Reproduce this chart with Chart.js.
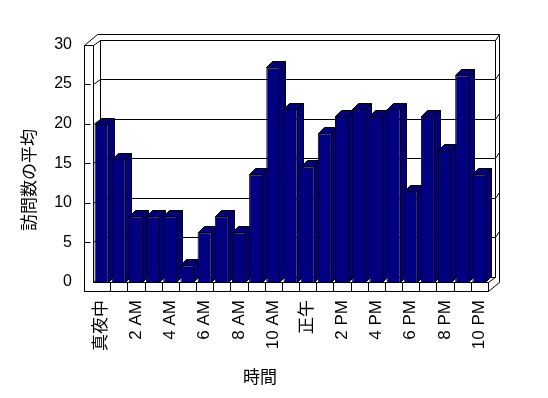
<!DOCTYPE html>
<html><head><meta charset="utf-8">
<style>html,body{margin:0;padding:0;background:#fff;}canvas{display:block;}</style>
<script src="https://cdn.jsdelivr.net/npm/chart.js@4/dist/chart.umd.min.js"></script>
</head><body>
<canvas id="c" width="548" height="398"></canvas>
<script>
const hourLabels = ['真夜中','1 AM','2 AM','3 AM','4 AM','5 AM','6 AM','7 AM','8 AM','9 AM','10 AM','11 AM',
  '正午','1 PM','2 PM','3 PM','4 PM','5 PM','6 PM','7 PM','8 PM','9 PM','10 PM'];
const avgVisits = [20, 15.6, 8.3, 8.3, 8.3, 2.1, 6.3, 8.3, 6.3, 13.6, 27.1, 21.9,
  14.6, 18.8, 21, 21.9, 21, 21.9, 11.5, 21, 16.7, 26.1, 13.6];
const yTicks = [0, 5, 10, 15, 20, 25, 30];
const xTitle = '時間';
const yTitle = '訪問数の平均';

const FONT = "'Liberation Sans', 'Noto Sans CJK JP', sans-serif";
const CJK = "'Noto Sans CJK JP', sans-serif";

const threeD = {
  id: 'threeD',
  beforeDatasetsDraw(chart) {
    const ctx = chart.ctx, a = chart.chartArea, ys = chart.scales.y;
    const L = Math.round(a.left) + 0.5, R = Math.round(a.right) + 0.5;
    const T = Math.round(ys.getPixelForValue(30)) + 0.5, B = Math.round(ys.getPixelForValue(0)) + 0.5;
    const DX = 7, DY = 5;
    const OL = L - 9, BL = L + DX, BR = R + DX, BT = T - DY, BB = B - DY;
    const OR = BR + 4, OT = BT - 6, FB = B + 9;
    ctx.save();
    ctx.strokeStyle = '#000'; ctx.lineWidth = 1;
    const line = (pts, fill) => {
      ctx.beginPath(); ctx.moveTo(pts[0][0], pts[0][1]);
      for (let i = 1; i < pts.length; i++) ctx.lineTo(pts[i][0], pts[i][1]);
      if (fill) { ctx.closePath(); ctx.fillStyle = fill; ctx.fill(); }
      ctx.stroke();
    };
    line([[OL, T], [L + 4, OT], [OR, OT], [OR, B], [R, FB], [OL, FB]], '#fff');
    line([[OL, FB], [OL, T], [L, T], [BL, BT], [BR, BT], [OR, OT]]);
    line([[L, T], [L, B], [R, B], [R, FB]]);
    line([[BL, BT], [BL, BB], [BR, BB], [BR, BT]]);
    line([[L, B], [BL, BB]]);
    line([[R, B], [BR, BB]]);
    yTicks.forEach(v => {
      if (v <= 0 || v >= 30) return;
      const yf = Math.round(ys.getPixelForValue(v)) + 0.5;
      line([[L, yf], [BL, yf - DY], [BR, yf - DY], [OR, yf - DY - 6]]);
      line([[OL, yf], [OL + 6, yf]]);
    });
    const n = hourLabels.length, pitch = (a.right - a.left) / n;
    for (let i = 1; i < n; i++) {
      const xb = Math.round(a.left + i * pitch) + 0.5;
      line([[xb, B], [xb, FB]]);
    }
    const BX = 6, BY = 6;
    const meta = chart.getDatasetMeta(0);
    meta.data.forEach(bar => {
      const p = bar.getProps(['x', 'y', 'base', 'width'], true);
      const l = Math.round(p.x - p.width / 2) + 0.5, r = Math.round(p.x + p.width / 2) - 0.5;
      const t = Math.round(p.y) + 0.5, b = Math.round(p.base) + 0.5;
      line([[r, t], [r + BX, t - BY], [r + BX, b - BY], [r, b]], '#000080');
      line([[l, t], [l + BX, t - BY], [r + BX, t - BY], [r, t]], '#000080');
    });
    ctx.restore();
  },
  afterDraw(chart) {
    const ctx = chart.ctx;
    ctx.save();
    ctx.fillStyle = '#000';
    ctx.font = "17px " + CJK;
    ctx.textAlign = 'center'; ctx.textBaseline = 'middle';
    ctx.fillText(xTitle, 260, 377);
    ctx.translate(29, 180); ctx.rotate(-Math.PI / 2);
    ctx.fillText(yTitle, 0, 0);
    ctx.restore();
  }
};

new Chart(document.getElementById('c'), {
  type: 'bar',
  data: {
    labels: hourLabels,
    datasets: [{
      data: avgVisits,
      backgroundColor: '#000080',
      borderColor: '#000',
      borderWidth: 1,
      barPercentage: 0.82,
      categoryPercentage: 1
    }]
  },
  options: {
    responsive: false,
    animation: false,
    devicePixelRatio: 1,
    layout: { padding: { left: 0, right: 60, top: 44.5, bottom: 0 } },
    plugins: { legend: { display: false }, tooltip: { enabled: false } },
    scales: {
      x: {
        grid: { display: false, drawTicks: false },
        border: { display: false },
        ticks: {
          autoSkip: false, maxRotation: 90, minRotation: 90, padding: 18,
          color: '#000', font: { family: FONT, size: 17 },
          callback: (v, i) => (i % 2 === 0 ? hourLabels[i] : '')
        },
        afterFit: s => { s.height = 116; }
      },
      y: {
        min: 0, max: 30,
        grid: { display: false, drawTicks: false },
        border: { display: false },
        ticks: { stepSize: 5, padding: 21, color: '#000', font: { family: FONT, size: 16 } },
        afterFit: s => { s.width = 93; }
      }
    }
  },
  plugins: [threeD]
});
</script>
</body></html>
